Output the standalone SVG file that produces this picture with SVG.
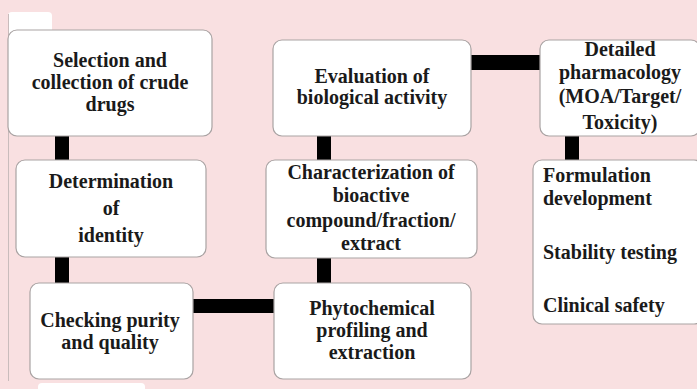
<svg xmlns="http://www.w3.org/2000/svg" width="697" height="389" viewBox="0 0 697 389">
  <style>
    .bg { fill: #f9e0e1; }
    .box { fill: #ffffff; stroke: #a9a3a3; stroke-width: 1.2; }
    .bar { fill: #000000; }
    .lbl { font-family: "Liberation Serif", "DejaVu Serif", serif; font-weight: bold; font-size: 20px; fill: #1a1a1a; }
    .c { text-anchor: middle; }
  </style>
  <rect class="bg" x="0" y="0" width="697" height="389"/>

  <!-- page edge decorations -->
  <g id="page-edge">
    <rect x="8" y="12" width="44" height="24" rx="4" fill="#ffffff"/>
    <line x1="8.5" y1="14" x2="8.5" y2="381" stroke="#c9bcbc" stroke-width="1"/>
    <rect x="38" y="383" width="107" height="10" rx="4" fill="#ffffff"/>
  </g>

  <!-- connectors -->
  <g id="connectors">
    <rect class="bar" x="55" y="135" width="14" height="26"/>
    <rect class="bar" x="55" y="256" width="14" height="28"/>
    <rect class="bar" x="192" y="299" width="83" height="14"/>
    <rect class="bar" x="317" y="257" width="14" height="27"/>
    <rect class="bar" x="317" y="135" width="14" height="26"/>
    <rect class="bar" x="470" y="55" width="71" height="15"/>
    <rect class="bar" x="565" y="135" width="14" height="26"/>
  </g>

  <g id="selection" class="lbl">
    <rect class="box" x="8" y="30" width="204" height="106" rx="9"/>
    <text class="c" x="110" y="67">Selection and</text>
    <text class="c" x="110" y="89">collection of crude</text>
    <text class="c" x="110" y="111">drugs</text>
  </g>

  <g id="identity" class="lbl">
    <rect class="box" x="16" y="160" width="190" height="97" rx="9"/>
    <text class="c" x="111" y="188">Determination</text>
    <text class="c" x="111" y="215">of</text>
    <text class="c" x="111" y="242">identity</text>
  </g>

  <g id="purity" class="lbl">
    <rect class="box" x="30" y="283" width="163" height="96" rx="9"/>
    <text class="c" x="110" y="327">Checking purity</text>
    <text class="c" x="110" y="349">and quality</text>
  </g>

  <g id="phytochemical" class="lbl">
    <rect class="box" x="274" y="283" width="197" height="96" rx="9"/>
    <text class="c" x="372" y="315">Phytochemical</text>
    <text class="c" x="372" y="337">profiling and</text>
    <text class="c" x="372" y="359">extraction</text>
  </g>

  <g id="characterization" class="lbl">
    <rect class="box" x="266" y="160" width="211" height="98" rx="9"/>
    <text class="c" x="371" y="179">Characterization of</text>
    <text class="c" x="371" y="202">bioactive</text>
    <text class="c" x="371" y="227">compound/fraction/</text>
    <text class="c" x="371" y="250">extract</text>
  </g>

  <g id="evaluation" class="lbl">
    <rect class="box" x="273" y="40" width="198" height="96" rx="9"/>
    <text class="c" x="372" y="83">Evaluation of</text>
    <text class="c" x="372" y="104">biological activity</text>
  </g>

  <g id="pharmacology" class="lbl">
    <rect class="box" x="540" y="40" width="160" height="96" rx="9"/>
    <text class="c" x="620" y="56">Detailed</text>
    <text class="c" x="620" y="79">pharmacology</text>
    <text class="c" x="620" y="103">(MOA/Target/</text>
    <text class="c" x="620" y="129">Toxicity)</text>
  </g>

  <g id="formulation" class="lbl">
    <rect class="box" x="533" y="160" width="170" height="164" rx="9"/>
    <text x="543" y="182">Formulation</text>
    <text x="543" y="205">development</text>
    <text x="543" y="259">Stability testing</text>
    <text x="543" y="312">Clinical safety</text>
  </g>
</svg>
